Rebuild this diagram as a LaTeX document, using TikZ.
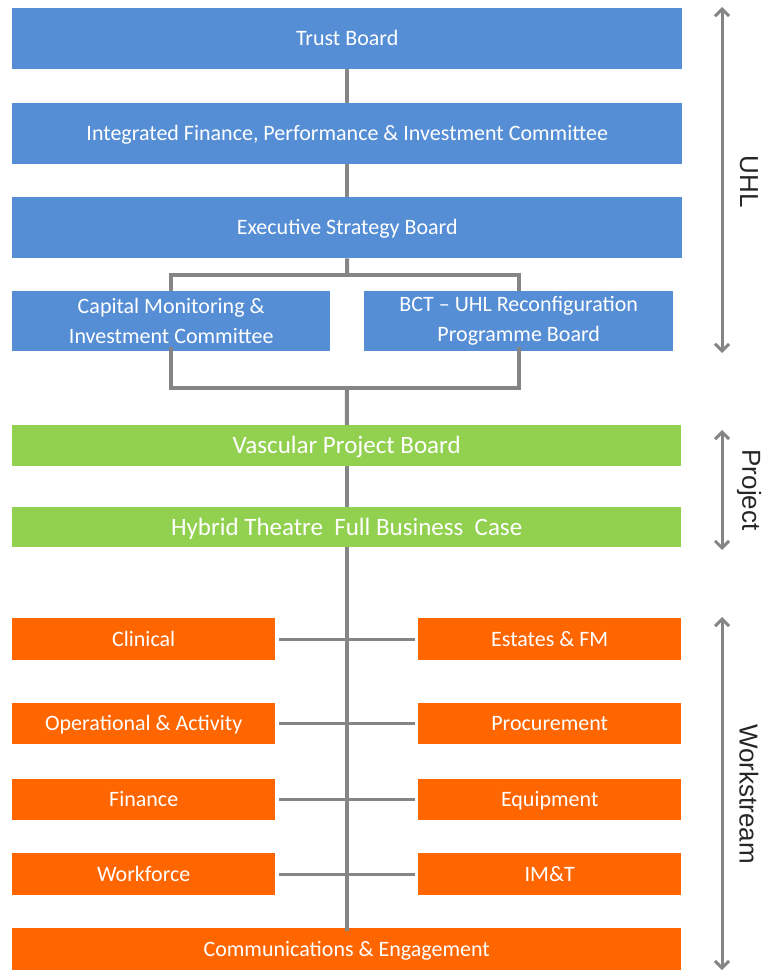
\documentclass[tikz,border=0pt]{standalone}
\usepackage{fontspec}
\setmainfont{Carlito}
\newfontfamily\lblfont{Liberation Sans}
\usetikzlibrary{arrows.meta}
\definecolor{bblue}{HTML}{558ED5}
\definecolor{bgreen}{HTML}{92D050}
\definecolor{borange}{HTML}{FF6600}
\definecolor{lgrey}{HTML}{858585}
\begin{document}
\begin{tikzpicture}[x=1pt,y=-1pt]
\useasboundingbox (0,0) rectangle (763,971);
\tikzset{
  box/.style={fill=#1, text=white, inner sep=0pt, anchor=north west, align=center, font=\fontsize{22}{30}\selectfont},
  one/.style={text height=14pt, text depth=0pt},
  onebig/.style={text height=16pt, text depth=0pt, font=\fontsize{25}{30}\selectfont},
  conn/.style={draw=lgrey, line width=4pt},
  hconn/.style={draw=lgrey, line width=3pt},
  side/.style={draw=lgrey, line width=3pt, {Straight Barb[length=7pt,width=14pt,line width=3pt]}-{Straight Barb[length=7pt,width=14pt,line width=3pt]}},
  sidelbl/.style={font=\lblfont\fontsize{26}{30}\selectfont, rotate=-90, text=black!85}
}
% UHL boxes
\node[box=bblue, one, minimum width=670pt, minimum height=61pt] (tb) at (12,8) {Trust Board};
\node[box=bblue, one, minimum width=670pt, minimum height=61pt] (ifp) at (12,103) {Integrated Finance, Performance \& Investment Committee};
\node[box=bblue, one, minimum width=670pt, minimum height=61pt] (esb) at (12,197) {Executive Strategy Board};
\node[box=bblue, minimum width=318pt, minimum height=60pt] (cap) at (12,291) {Capital Monitoring \&\\Investment Committee};
\node[box=bblue, minimum width=309pt, minimum height=60pt] (bct) at (364,291) {BCT -- UHL Reconfiguration\\Programme Board};
% Project boxes
\node[box=bgreen, onebig, minimum width=669pt, minimum height=41pt] (vpb) at (12,425) {Vascular Project Board};
\node[box=bgreen, onebig, minimum width=669pt, minimum height=40pt] (hyb) at (12,507) {Hybrid Theatre\ \ Full Business\ \ Case};
% Workstream boxes
\node[box=borange, one, minimum width=263pt, minimum height=42pt] (clin) at (12,618) {Clinical};
\node[box=borange, one, minimum width=263pt, minimum height=42pt] (est) at (418,618) {Estates \& FM};
\node[box=borange, one, minimum width=263pt, minimum height=41pt] (ops) at (12,703) {Operational \& Activity};
\node[box=borange, one, minimum width=263pt, minimum height=41pt] (proc) at (418,703) {Procurement};
\node[box=borange, one, minimum width=263pt, minimum height=41pt] (fin) at (12,779) {Finance};
\node[box=borange, one, minimum width=263pt, minimum height=41pt] (equip) at (418,779) {Equipment};
\node[box=borange, one, minimum width=263pt, minimum height=42pt] (wf) at (12,853) {Workforce};
\node[box=borange, one, minimum width=263pt, minimum height=42pt] (imt) at (418,853) {IM\&T};
\node[box=borange, one, minimum width=669pt, minimum height=42pt] (comm) at (12,928) {Communications \& Engagement};
% connectors
\coordinate (top) at (347,275);
\coordinate (bot) at (347,388);
\draw[conn] (tb) -- (ifp);
\draw[conn] (ifp) -- (esb);
\draw[conn] (esb) -- (top);
\draw[conn] (cap.north) |- (top) -| (bct.north);
\draw[conn] ([yshift=4pt]cap.south) |- (bot) -| ([yshift=4pt]bct.south);
\draw[conn] (bot) -- (vpb);
\draw[conn] (vpb) -- (hyb);
\draw[conn] (hyb) -- ([yshift=-3pt]comm.north);
\foreach \l/\r in {clin/est, ops/proc, fin/equip, wf/imt}
  \draw[hconn, shorten <=4pt, shorten >=3pt] (\l.east) -- (\r.west);
% side arrows
\coordinate (u1) at (722,7);
\coordinate (u2) at (722,353);
\coordinate (p1) at (722,430);
\coordinate (p2) at (722,550);
\coordinate (w1) at (722,617);
\coordinate (w2) at (722,970);
\draw[side] (u1) -- (u2);
\draw[side] (p1) -- (p2);
\draw[side] (w1) -- (w2);
\node[sidelbl] (luhl) at (749,182) {UHL};
\node[sidelbl] (lproj) at (749,490) {Project};
\node[sidelbl] (lws) at (749,794) {Workstream};
\end{tikzpicture}
\end{document}
